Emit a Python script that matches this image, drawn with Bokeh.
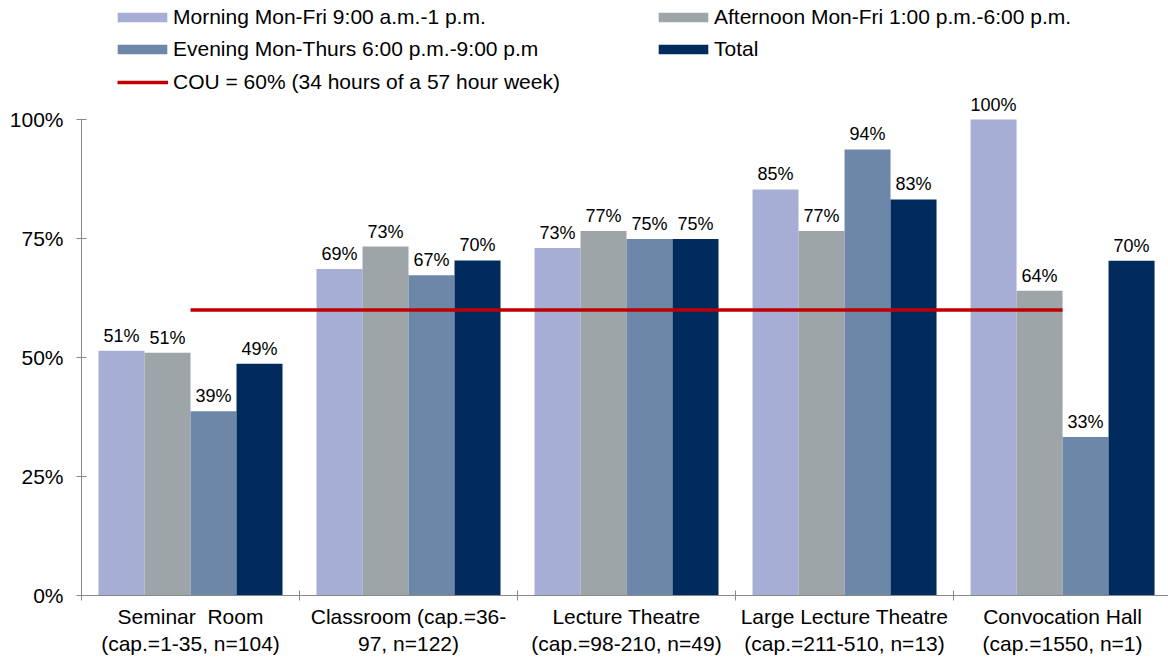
from bokeh.plotting import figure
from bokeh.models import ColumnDataSource, Range1d, FixedTicker, Legend, LegendItem
from bokeh.core.properties import value
from bokeh.embed import file_html
from bokeh.resources import INLINE

# ---- data ----
categories = [
    "Seminar \u00a0Room\n(cap.=1-35, n=104)",
    "Classroom (cap.=36-\n97, n=122)",
    "Lecture Theatre\n(cap.=98-210, n=49)",
    "Large Lecture Theatre\n(cap.=211-510, n=13)",
    "Convocation Hall\n(cap.=1550, n=1)",
]
series_names = [
    "Morning Mon-Fri 9:00 a.m.-1 p.m.",
    "Afternoon Mon-Fri 1:00 p.m.-6:00 p.m.",
    "Evening Mon-Thurs 6:00 p.m.-9:00 p.m",
    "Total",
]
morning = [0.514, 0.686, 0.730, 0.853, 1.000]
afternoon = [0.510, 0.733, 0.766, 0.766, 0.640]
evening = [0.387, 0.673, 0.749, 0.937, 0.333]
total = [0.487, 0.704, 0.749, 0.832, 0.703]
cou_name = "COU = 60% (34 hours of a 57 hour week)"
cou = [0.60, 0.60, 0.60, 0.60, 0.60]
y_ticks = [0, 0.25, 0.5, 0.75, 1.0]
y_tick_labels = ["0%", "25%", "50%", "75%", "100%"]

colors = ["#A6AED6", "#9DA5A8", "#6C87A8", "#002B5C"]
cou_color = "#C00000"
FONT = "Liberation Sans"

p = figure(width=1168, height=658, output_backend="svg", toolbar_location=None,
           x_range=Range1d(0, 4.986), y_range=Range1d(0, 1.25),
           min_border_left=81, min_border_right=0, min_border_top=0,
           min_border_bottom=63)
p.outline_line_color = None
p.grid.grid_line_color = None
p.background_fill_color = "white"

bar_w = 0.211
offsets = [-1.5 * bar_w, -0.5 * bar_w, 0.5 * bar_w, 1.5 * bar_w]
renderers = []
for name, vals, off, col in zip(series_names, [morning, afternoon, evening, total], offsets, colors):
    xs = [i + 0.5 + off for i in range(len(categories))]
    src = ColumnDataSource(dict(x=xs, top=vals,
                                lab=["%d%%" % round(v * 100) for v in vals]))
    r = p.vbar(x="x", top="top", width=bar_w, bottom=0, source=src,
               fill_color=col, line_color=None)
    p.text(x="x", y="top", text="lab", source=src, text_align="center",
           text_baseline="alphabetic", y_offset=-15,
           text_font=value(FONT), text_font_size="18px", text_color="#000000")
    renderers.append(r)

cx = [i + 0.5 for i in range(len(categories))]
cou_r = p.line(cx, cou, line_color=cou_color, line_width=3.5)

# axes
p.yaxis.ticker = FixedTicker(ticks=y_ticks)
p.yaxis.major_label_overrides = {t: l for t, l in zip(y_ticks, y_tick_labels)}
p.yaxis.bounds = (0, 1)
p.yaxis.minor_tick_line_color = None
p.yaxis.major_tick_in = 5
p.yaxis.major_tick_out = 5
p.yaxis.axis_line_color = "#888888"
p.yaxis.major_tick_line_color = "#888888"
p.yaxis.major_label_text_font = FONT
p.yaxis.major_label_text_font_size = "21px"
p.yaxis.major_label_text_color = "#000000"
p.yaxis.major_label_standoff = 13

p.xaxis.ticker = FixedTicker(ticks=cx, minor_ticks=[0, 1, 2, 3, 4, 5])
p.xaxis.major_label_overrides = {c: l for c, l in zip(cx, categories)}
p.xaxis.major_tick_line_color = None
p.xaxis.major_tick_in = 0
p.xaxis.major_tick_out = 0
p.xaxis.minor_tick_in = 5
p.xaxis.minor_tick_out = 5
p.xaxis.minor_tick_line_color = "#888888"
p.xaxis.axis_line_color = "#888888"
p.xaxis.major_label_text_font = FONT
p.xaxis.major_label_text_font_size = "21px"
p.xaxis.major_label_text_color = "#000000"
p.xaxis.major_label_standoff = 4


def make_legend(items, loc, gw, gh, standoff):
    return Legend(items=items, location=loc, orientation="vertical",
                  glyph_width=gw, glyph_height=gh, label_height=20,
                  label_standoff=standoff, spacing=8, padding=0, margin=0,
                  border_line_color=None, background_fill_alpha=0,
                  label_text_font=FONT, label_text_font_size="21px",
                  label_text_color="#000000")


leg_a = make_legend([LegendItem(label=series_names[0], renderers=[renderers[0]]),
                     LegendItem(label=series_names[2], renderers=[renderers[2]])],
                    (30, 534), 62, 12, 0)
leg_b = make_legend([LegendItem(label=series_names[1], renderers=[renderers[1]]),
                     LegendItem(label=series_names[3], renderers=[renderers[3]])],
                    (571, 534), 62, 12, 0)
leg_c = make_legend([LegendItem(label=cou_name, renderers=[cou_r])],
                    (36, 501), 51, 10, 5)
p.add_layout(leg_a, "center")
p.add_layout(leg_b, "center")
p.add_layout(leg_c, "center")

open("out.html", "w").write(file_html(p, INLINE))
